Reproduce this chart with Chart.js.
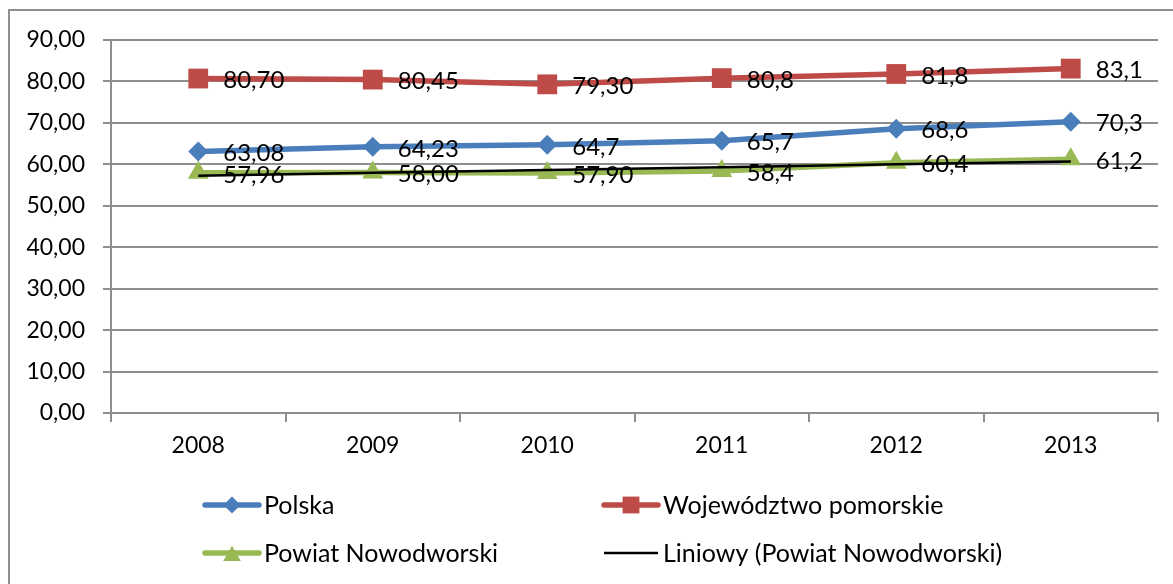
<!DOCTYPE html>
<html>
<head>
<meta charset="utf-8">
<script src="https://cdn.jsdelivr.net/npm/chart.js@4.4.1/dist/chart.umd.min.js"></script>
<style>
  html, body { margin: 0; padding: 0; background: #fff; }
  #wrap { width: 1173px; height: 584px; position: relative; }
</style>
</head>
<body>
<div id="wrap"><canvas id="wykres"></canvas></div>
<script>
const lata = ['2008', '2009', '2010', '2011', '2012', '2013'];
const polska = [63.08, 64.23, 64.7, 65.7, 68.6, 70.3];
const pomorskie = [80.70, 80.45, 79.30, 80.8, 81.8, 83.1];
const powiat = [57.96, 58.00, 57.90, 58.4, 60.4, 61.2];
// linia trendu
const trendPowiat = [57.27, 57.95, 58.63, 59.32, 60.00, 60.68];
const etykietyPolska = ['63,08', '64,23', '64,7', '65,7', '68,6', '70,3'];
const etykietyPomorskie = ['80,70', '80,45', '79,30', '80,8', '81,8', '83,1'];
const etykietyPowiat = ['57,96', '58,00', '57,90', '58,4', '60,4', '61,2'];
const osY = { min: 0, max: 90, krok: 10 };

const FONT = 'Lato, "Noto Sans", sans-serif';
const SZARY = '#8e8e8e';

const ramka = {
    id: 'ramka',
    beforeDraw(chart) {
        const ctx = chart.ctx;
        ctx.save();
        ctx.fillStyle = '#fff';
        ctx.fillRect(0, 0, chart.width, chart.height);
        ctx.strokeStyle = SZARY;
        ctx.lineWidth = 2;
        ctx.beginPath();
        ctx.moveTo(9, chart.height);
        ctx.lineTo(9, 10);
        ctx.lineTo(chart.width, 10);
        ctx.stroke();
        ctx.restore();
    }
};

const etykiety = {
    id: 'etykiety',
    afterDatasetsDraw(chart) {
        const ctx = chart.ctx;
        ctx.save();
        ctx.font = '24px ' + FONT;
        ctx.fillStyle = '#000';
        ctx.textAlign = 'left';
        ctx.textBaseline = 'middle';
        chart.data.datasets.forEach((ds, i) => {
            if (!ds.etykiety) return;
            chart.getDatasetMeta(i).data.forEach((pt, j) => {
                ctx.fillText(ds.etykiety[j], pt.x + 25, pt.y + 2);
            });
        });
        ctx.restore();
    }
};

const legenda = {
    id: 'legenda',
    afterDraw(chart) {
        const ctx = chart.ctx;
        const pozycje = [[205, 505], [604, 505], [205, 553], [604, 553]];
        ctx.save();
        chart.data.datasets.forEach((ds, n) => {
            const [x, y] = pozycje[n];
            ctx.strokeStyle = ds.borderColor;
            ctx.lineWidth = ds.borderWidth;
            ctx.lineCap = ds.pointRadius > 0 ? 'round' : 'butt';
            ctx.beginPath();
            ctx.moveTo(x, y);
            ctx.lineTo(x + 54, y);
            ctx.stroke();
            if (ds.pointRadius > 0) {
                ctx.fillStyle = ds.pointBackgroundColor;
                Chart.helpers.drawPoint(ctx, {
                    pointStyle: ds.pointStyle,
                    radius: ds.pointRadius * 0.85,
                    rotation: 0,
                    borderWidth: 0
                }, x + 27, ds.pointStyle === 'triangle' ? y + 3 : y);
            }
            ctx.fillStyle = '#000';
            ctx.font = '25px ' + FONT;
            ctx.textAlign = 'left';
            ctx.textBaseline = 'middle';
            ctx.fillText(ds.label, x + 59, y + 1);
        });
        ctx.restore();
    }
};

const data = {
    labels: lata,
    datasets: [
        {
            label: 'Polska',
            data: polska,
            etykiety: etykietyPolska,
            borderColor: '#4a7ebb',
            backgroundColor: '#4a7ebb',
            pointBackgroundColor: '#4a7ebb',
            pointBorderWidth: 0,
            borderWidth: 5.5,
            pointStyle: 'rectRot',
            pointRadius: 10,
            order: 3,
        },
        {
            label: 'Województwo pomorskie',
            data: pomorskie,
            etykiety: etykietyPomorskie,
            borderColor: '#be4b48',
            backgroundColor: '#be4b48',
            pointBackgroundColor: '#be4b48',
            pointBorderWidth: 0,
            borderWidth: 5.5,
            pointStyle: 'rect',
            pointRadius: 14,
            order: 2,
        },
        {
            label: 'Powiat Nowodworski',
            data: powiat,
            etykiety: etykietyPowiat,
            borderColor: '#98b954',
            backgroundColor: '#98b954',
            pointBackgroundColor: '#98b954',
            pointBorderWidth: 0,
            borderWidth: 5.5,
            pointStyle: 'triangle',
            pointRadius: 12,
            order: 1,
        },
        {
            label: 'Liniowy (Powiat Nowodworski)',
            data: trendPowiat,
            borderColor: '#000',
            backgroundColor: '#000',
            borderWidth: 2.5,
            pointRadius: 0,
            order: 0,
        }
    ]
};

const config = {
    type: 'line',
    data: data,
    options: {
        responsive: true,
        maintainAspectRatio: false,
        animation: false,
        layout: {
            padding: { top: 40, right: 15, left: 8, bottom: 0 }
        },
        elements: {
            line: { tension: 0 }
        },
        scales: {
            x: {
                offset: true,
                grid: {
                    offset: true,
                    drawOnChartArea: false,
                    tickLength: 9,
                    color: SZARY,
                    lineWidth: 2,
                },
                border: { color: SZARY, width: 2 },
                ticks: {
                    color: '#000',
                    padding: 10,
                    maxRotation: 0,
                    font: { family: FONT, size: 23 },
                },
                afterFit: (scale) => { scale.height = 171; }
            },
            y: {
                min: osY.min,
                max: osY.max,
                grid: {
                    tickLength: 8,
                    color: SZARY,
                    lineWidth: 2,
                },
                border: { color: SZARY, width: 2 },
                ticks: {
                    stepSize: osY.krok,
                    color: '#000',
                    padding: 18,
                    font: { family: FONT, size: 23 },
                    callback: (v) => v.toFixed(2).replace('.', ','),
                },
                afterFit: (scale) => { scale.width = 103; }
            }
        },
        plugins: {
            legend: { display: false },
            tooltip: { enabled: false }
        }
    },
    plugins: [ramka, etykiety, legenda]
};

const ctx = document.getElementById('wykres').getContext('2d');
const chart = new Chart(ctx, config);
</script>
</body>
</html>
